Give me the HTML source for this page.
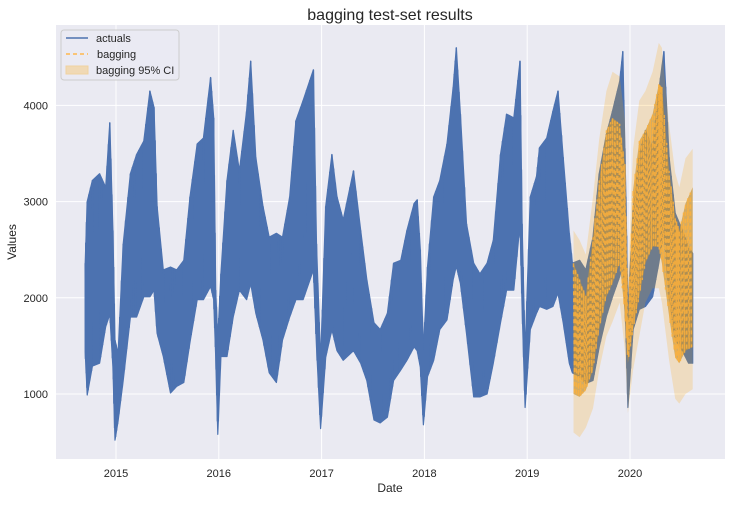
<!DOCTYPE html>
<html><head><meta charset="utf-8"><style>
body{margin:0;background:#fff;}
svg text{font-family:"Liberation Sans",sans-serif;}
</style></head><body>
<svg id="chart" width="732" height="500">
<rect x="56" y="25" width="669" height="434" fill="#eaeaf2"/>
<g id="grid"></g>
<g id="series"></g>
<g id="axes"></g>
<text x="390" y="20" font-size="16" text-anchor="middle" fill="#262626">bagging test-set results</text>
<text x="390" y="492" font-size="12" text-anchor="middle" fill="#262626">Date</text>
<text x="16" y="242" font-size="12" text-anchor="middle" fill="#262626" transform="rotate(-90 16 242)">Values</text>
<g>
<rect x="61" y="30" width="118" height="50" rx="3" fill="#eaeaf2" fill-opacity="0.8" stroke="#cccccc"/>
<line x1="66" y1="38" x2="88" y2="38" stroke="#4c72b0" stroke-width="1.6"/>
<text x="96" y="42" font-size="11" fill="#262626">actuals</text>
<line x1="66" y1="54" x2="88" y2="54" stroke="#ffb84d" stroke-width="1.6" stroke-dasharray="4,3"/>
<text x="97" y="58" font-size="11" fill="#262626">bagging</text>
<rect x="66" y="66" width="22" height="8" fill="#f0d9b5" stroke="#f0d2a0"/>
<text x="96" y="74" font-size="11" fill="#262626">bagging 95% CI</text>
</g>
</svg>
<script>
const yTicks=[1000,2000,3000,4000];
const xTicks=[2015,2016,2017,2018,2019,2020];
const actT=[2014.70,2014.72,2014.77,2014.84,2014.90,2014.94,2014.97,2014.99,2015.02,2015.07,2015.14,2015.20,2015.27,2015.33,2015.37,2015.40,2015.46,2015.53,2015.59,2015.66,2015.72,2015.79,2015.85,2015.92,2015.95,2015.97,2015.99,2016.02,2016.08,2016.14,2016.20,2016.27,2016.31,2016.36,2016.43,2016.49,2016.56,2016.62,2016.69,2016.75,2016.82,2016.92,2016.95,2016.99,2017.04,2017.10,2017.15,2017.21,2017.31,2017.38,2017.44,2017.51,2017.57,2017.64,2017.70,2017.77,2017.83,2017.90,2017.93,2017.96,2017.99,2018.03,2018.09,2018.15,2018.22,2018.28,2018.31,2018.35,2018.41,2018.48,2018.54,2018.61,2018.67,2018.74,2018.80,2018.87,2018.93,2018.95,2018.98,2019.03,2019.09,2019.12,2019.19,2019.25,2019.30,2019.35,2019.41,2019.44,2019.51,2019.57,2019.64,2019.70,2019.77,2019.83,2019.90,2019.93,2019.96,2019.98,2020.03,2020.09,2020.15,2020.22,2020.28,2020.33,2020.38,2020.44,2020.51,2020.57,2020.61];
const actHi=[2360,3000,3220,3290,3150,3820,2700,1560,1420,2560,3290,3490,3630,4150,3980,2950,2290,2320,2290,2390,3050,3600,3660,4290,3870,2080,1560,2250,3220,3740,3320,3940,4460,3460,2950,2630,2670,2630,3050,3840,4050,4370,2560,1340,2950,3490,3050,2810,3320,2700,2190,1740,1670,1840,2360,2390,2700,2980,3020,2500,1460,2320,3050,3220,3600,4190,4600,3910,2770,2360,2250,2360,2600,3490,3910,3870,4460,2770,1420,3050,3260,3560,3660,3940,4150,3460,2670,2360,2390,2290,2630,3290,3700,3940,4250,4560,3050,1840,2910,3490,3740,3560,4150,4560,3460,2880,2700,2530,2460];
const actLo=[1440,990,1290,1320,1700,1830,1280,520,720,1140,1800,1800,2010,2010,2080,1630,1390,1010,1080,1120,1540,1980,1980,2120,1980,1390,580,1390,1390,1800,2080,1980,2150,1840,1560,1220,1120,1560,1800,1980,1980,2290,1490,640,1380,1670,1450,1350,1450,1320,1140,730,700,760,1140,1250,1350,1490,1450,1280,680,1180,1350,1670,1770,2190,2330,2150,1630,970,970,1000,1320,1740,2080,2080,2770,1900,860,1670,1840,1910,1880,1910,2050,1740,1320,1220,1180,1110,1140,1490,1810,2010,2220,2360,1670,860,1670,1880,1910,2010,2360,2700,2010,1560,1450,1320,1320];
const bagT=[2019.45,2019.51,2019.57,2019.64,2019.70,2019.77,2019.83,2019.90,2019.95,2019.98,2020.03,2020.09,2020.15,2020.22,2020.28,2020.31,2020.38,2020.44,2020.48,2020.54,2020.61];
const bagHi=[2360,2190,2020,2630,3220,3740,3870,3810,3390,1770,3120,3630,3740,3910,4220,4190,3320,2840,2700,2980,3150];
const bagLo=[1000,970,1040,1250,1670,2010,2150,2360,1840,1320,1670,2010,2360,2530,2530,2360,1810,1380,1320,1450,1490];
const ciHi=[2700,2600,2450,3050,3650,4150,4350,4300,3850,2200,3550,4050,4150,4350,4650,4600,3800,3300,3150,3450,3550];
const ciLo=[600,550,650,850,1250,1600,1750,1950,1450,800,1250,1600,1950,2100,2100,1950,1350,950,900,1000,1050];

const NS='http://www.w3.org/2000/svg';
const X0=56,X1=725,Y0=25,Y1=459;
const xs=t=>116+(t-2015)*102.8;
const ys=v=>394-(v-1000)*0.0962;
function mk(tag,attrs,parent){const e=document.createElementNS(NS,tag);for(const k in attrs)e.setAttribute(k,attrs[k]);document.getElementById(parent).appendChild(e);return e;}

yTicks.forEach(v=>{
  const l=mk('line',{x1:X0,x2:X1,y1:ys(v),y2:ys(v),stroke:'#fff','stroke-width':1},'grid');
  
  
  const t=mk('text',{x:X0-8,y:ys(v)+4,'font-size':11,'text-anchor':'end',fill:'#262626'},'axes');
  t.textContent=v;
  
  
});
xTicks.forEach(v=>{
  const l=mk('line',{x1:xs(v),x2:xs(v),y1:Y0,y2:Y1,stroke:'#fff','stroke-width':1},'grid');
  
  
  const t=mk('text',{x:xs(v),y:Y1+18,'font-size':11,'text-anchor':'middle',fill:'#262626'},'axes');
  t.textContent=v;
  
  
});

function band(T,H,L){let p=T.map((t,i)=>xs(t).toFixed(1)+','+ys(H[i]).toFixed(1));for(let i=T.length-1;i>=0;i--)p.push(xs(T[i]).toFixed(1)+','+ys(L[i]).toFixed(1));return p.join(' ');}
function zig(T,H,L,n){const pts=[];for(let i=0;i<T.length-1;i++){for(let k=0;k<n;k++){const f=k/n;const t=T[i]+(T[i+1]-T[i])*f;const v=(k%2==0)?H[i]+(H[i+1]-H[i])*f:L[i]+(L[i+1]-L[i])*f;pts.push(xs(t).toFixed(1)+','+ys(v).toFixed(1));}}return pts.join(' ');}

const a=mk('polygon',{points:band(actT,actHi,actLo),fill:'#4c72b0',stroke:'#4c72b0','stroke-width':1.2,'stroke-linejoin':'round'},'series');


const az=mk('polyline',{points:zig(actT,actHi,actLo,6),fill:'none',stroke:'#4c72b0','stroke-width':1.5},'series');


const ci=mk('polygon',{points:band(bagT,ciHi,ciLo),fill:'#ffa500','fill-opacity':0.2,stroke:'none'},'series');


const bb=mk('polygon',{points:band(bagT,bagHi,bagLo),fill:'#c8963a','fill-opacity':0.7,stroke:'none'},'series');


const bz=mk('polyline',{points:zig(bagT,bagHi,bagLo,6),fill:'none',stroke:'#ffb13b','stroke-width':1.5,'stroke-dasharray':'4,3','stroke-opacity':0.8},'series');


</script>
</body></html>
